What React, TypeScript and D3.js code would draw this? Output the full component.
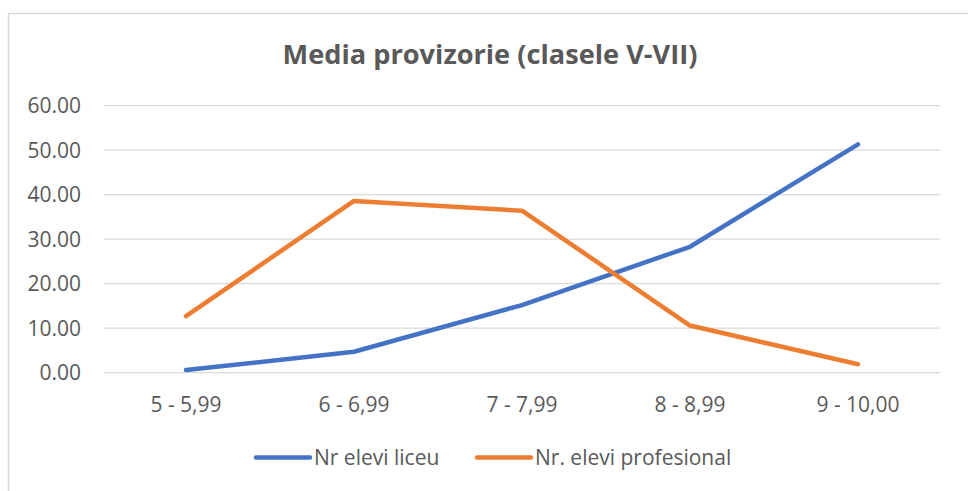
import React from "react";
import * as d3 from "d3";

const title = "Media provizorie (clasele V-VII)";
const categories = ["5 - 5,99", "6 - 6,99", "7 - 7,99", "8 - 8,99", "9 - 10,00"];
const liceu = [0.6, 4.7, 15.2, 28.3, 51.3];
const profesional = [12.7, 38.6, 36.4, 10.6, 1.9];
const seriesNames = ["Nr elevi liceu", "Nr. elevi profesional"];
const seriesColors = ["#4472C4", "#ED7D31"];
const yTicks = [0, 10, 20, 30, 40, 50, 60];

export default function App() {
  const W = 968;
  const H = 491;
  const x = d3.scalePoint<string>().domain(categories).range([102, 942]).padding(0.5);
  const y = d3.scaleLinear().domain([0, 60]).range([372.7, 105.7]);
  const line = d3
    .line<number>()
    .x((_, i) => x(categories[i]) as number)
    .y((d) => y(d));
  const font = "'Open Sans', 'Liberation Sans', Arial, sans-serif";
  const textColor = "#595959";
  const series = [liceu, profesional];
  const legend = [
    { lx: 256, tx: 314 },
    { lx: 477, tx: 535 },
  ];
  return (
    <svg
      width={W}
      height={H}
      style={{ position: "absolute", left: 0, top: 0, background: "#fff" }}
    >
      <rect x={0} y={0} width={W} height={H} fill="#fff" />
      <path d={`M8.5,${H + 5}V13.5H${W + 5}`} fill="none" stroke="#D9D9D9" strokeWidth={1.5} />
      <text
        x={490}
        y={63.5}
        textAnchor="middle"
        fontFamily={font}
        fontWeight="bold"
        fontSize={27.2}
        fill={textColor}
      >
        {title}
      </text>
      {yTicks.map((t) => (
        <g key={t}>
          <line x1={104} x2={940} y1={y(t)} y2={y(t)} stroke="#D9D9D9" strokeWidth={1.3} />
          <text
            x={81}
            y={y(t) + 7.5}
            textAnchor="end"
            fontFamily={font}
            fontSize={21}
            fill={textColor}
          >
            {t.toFixed(2)}
          </text>
        </g>
      ))}
      {categories.map((c) => (
        <text
          key={c}
          x={x(c)}
          y={412}
          textAnchor="middle"
          fontFamily={font}
          fontSize={21}
          fill={textColor}
        >
          {c}
        </text>
      ))}
      {series.map((s, i) => (
        <path
          key={i}
          d={line(s) || ""}
          fill="none"
          stroke={seriesColors[i]}
          strokeWidth={4.5}
          strokeLinecap="round"
          strokeLinejoin="round"
        />
      ))}
      {seriesNames.map((n, i) => (
        <g key={n}>
          <line
            x1={legend[i].lx}
            x2={legend[i].lx + 54}
            y1={457.5}
            y2={457.5}
            stroke={seriesColors[i]}
            strokeWidth={4.5}
            strokeLinecap="round"
          />
          <text x={legend[i].tx} y={465} fontFamily={font} fontSize={21} fill={textColor}>
            {n}
          </text>
        </g>
      ))}
    </svg>
  );
}
